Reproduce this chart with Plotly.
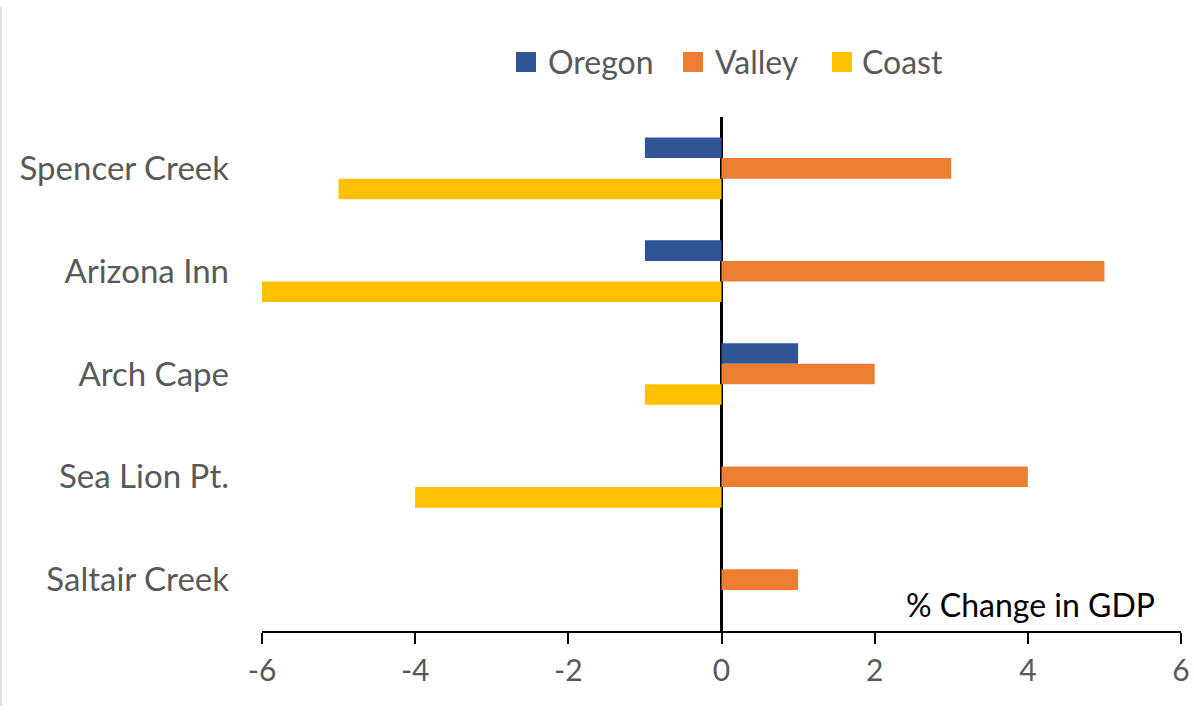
import plotly.graph_objects as go

# Sites, listed top to bottom
sites = ["Spencer Creek", "Arizona Inn", "Arch Cape", "Sea Lion Pt.", "Saltair Creek"]

# % change in GDP by region
oregon = [-1, -1, 1, 0, 0]
valley = [3, 5, 2, 4, 1]
coast = [-5, -6, -1, -4, 0]

x_ticks = [-6, -4, -2, 0, 2, 4, 6]

series = [
    ("Oregon", oregon, "#2F5597"),
    ("Valley", valley, "#ED7D31"),
    ("Coast", coast, "#FFC000"),
]

W, H = 1194, 713
L, R, T, B = 262, 13, 117, 82
pw, ph = W - L - R, H - T - B


def px(x):
    """Pixel column -> paper x."""
    return (x - L) / pw


def py(y):
    """Pixel row -> paper y."""
    return (H - B - y) / ph


FONT = "Lato, sans-serif"
GREY = "#595959"

fig = go.Figure()
for name, vals, color in series:
    fig.add_trace(go.Bar(
        name=name, y=sites, x=vals, orientation="h",
        marker=dict(color=color, line=dict(width=0)),
        showlegend=False,
    ))

fig.update_layout(
    width=W, height=H,
    margin=dict(l=L, r=R, t=T, b=B, autoexpand=False),
    paper_bgcolor="white", plot_bgcolor="white",
    barmode="group", bargap=0.4, bargroupgap=0,
    font=dict(family=FONT, color=GREY),
)

fig.update_xaxes(
    range=[-6, 6], tickvals=x_ticks, ticktext=[str(v) for v in x_ticks],
    showgrid=False, zeroline=True, zerolinecolor="black", zerolinewidth=3,
    showline=True, linecolor="black", linewidth=2,
    ticks="outside", ticklen=11, tickwidth=2, tickcolor="black",
    tickfont=dict(size=30, color=GREY), ticklabelstandoff=1,
    automargin=False,
)
fig.update_yaxes(
    autorange="reversed", showgrid=False, showline=False, ticks="",
    tickfont=dict(size=33, color=GREY), ticklabelstandoff=32,
    automargin=False,
)

# Legend: coloured squares with series names, centred above the plot
legend_items = [("Oregon", "#2F5597", 516, 546),
                ("Valley", "#ED7D31", 683, 713),
                ("Coast", "#FFC000", 832, 860)]
for name, color, sx, tx in legend_items:
    fig.add_shape(
        type="rect", xref="paper", yref="paper",
        x0=px(sx), x1=px(sx + 20), y0=py(72), y1=py(52),
        fillcolor=color, line=dict(width=0),
    )
    fig.add_annotation(
        text=name, xref="paper", yref="paper",
        x=px(tx), y=py(62), xanchor="left", yanchor="middle",
        showarrow=False, font=dict(size=32, color=GREY, family=FONT),
    )

fig.add_annotation(
    text="% Change in GDP", xref="paper", yref="paper",
    x=px(1157), y=py(604), xanchor="right", yanchor="middle",
    showarrow=False, font=dict(size=32, color="black", family=FONT),
)

# thin frame edge on the left of the chart area
fig.add_shape(
    type="line", xref="paper", yref="paper",
    x0=px(1), x1=px(1), y0=py(706), y1=py(7),
    line=dict(color="#D9D9D9", width=1.5),
)

fig.write_html("out.html")
